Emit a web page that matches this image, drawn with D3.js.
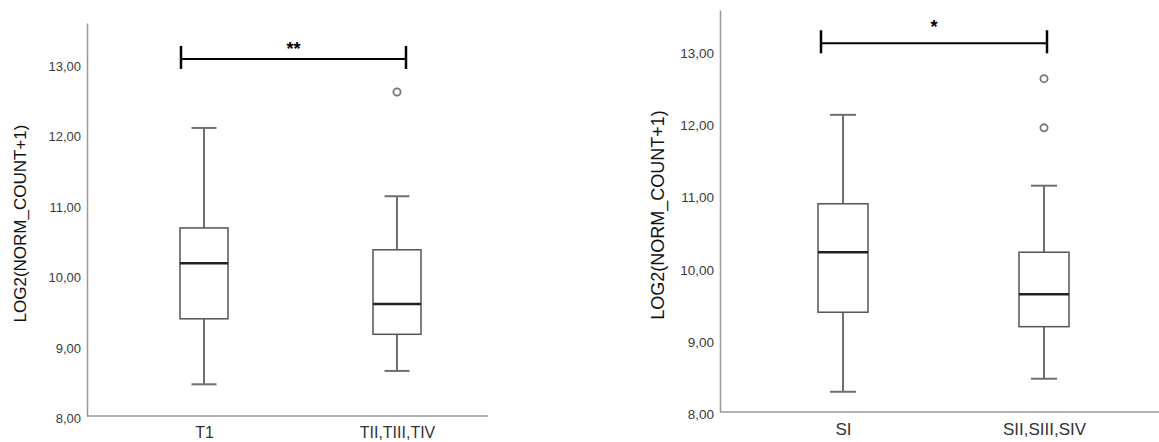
<!DOCTYPE html>
<html>
<head>
<meta charset="utf-8">
<script src="https://cdn.jsdelivr.net/npm/d3@7"></script>
<style>
  body { margin: 0; background: #fff; }
  svg { display: block; font-family: "Liberation Sans", Arial, sans-serif; }
</style>
</head>
<body>
<script>
const width = 1159;
const height = 442;

// left panel: tumour stage T
const tCategories = ['T1', 'TII,TIII,TIV'];
const tLow = [8.45, 8.64];
const tQ1 = [9.38, 9.16];
const tMedian = [10.17, 9.59];
const tQ3 = [10.67, 10.36];
const tHigh = [12.09, 11.12];
const tOutliers = [[], [12.60]];
const tSignif = '**';
const tBracket = 13.07;

// right panel: stage S
const sCategories = ['SI', 'SII,SIII,SIV'];
const sLow = [8.28, 8.46];
const sQ1 = [9.38, 9.18];
const sMedian = [10.21, 9.63];
const sQ3 = [10.88, 10.21];
const sHigh = [12.11, 11.13];
const sOutliers = [[], [12.61, 11.93]];
const sSignif = '*';
const sBracket = 13.10;

const yTicks = [8, 9, 10, 11, 12, 13];
const yLabel = 'LOG2(NORM_COUNT+1)';

const svg = d3.select('body')
  .append('svg')
  .attr('width', width)
  .attr('height', height);

drawPanel({
  cats: tCategories, low: tLow, q1: tQ1, med: tMedian, q3: tQ3, high: tHigh,
  outliers: tOutliers, signif: tSignif, bracket: tBracket,
  axisX: 87, axisEnd: 488, top: 23, bottom: 416, yTop: 13.58,
  first: 204, last: 397, boxW: 48, capW: 25,
  labelX: 20, labelSize: 17, tickSize: 13, catSize: 16, catY: 438,
  brLeft: 23, brRight: 9, starLift: 4
});

drawPanel({
  cats: sCategories, low: sLow, q1: sQ1, med: sMedian, q3: sQ3, high: sHigh,
  outliers: sOutliers, signif: sSignif, bracket: sBracket,
  axisX: 720, axisEnd: 1159, top: 10, bottom: 412, yTop: 13.56,
  first: 843, last: 1044, boxW: 50, capW: 26,
  labelX: 658, labelSize: 18, tickSize: 13.5, catSize: 17, catY: 435,
  brLeft: 22, brRight: 3, starLift: 10
});

function drawPanel(p) {
  const g = svg.append('g');

  const y = d3.scaleLinear()
    .domain([8, p.yTop])
    .range([p.bottom, p.top]);

  const x = d3.scalePoint()
    .domain(p.cats)
    .range([p.first, p.last]);

  const yAxis = d3.axisLeft(y)
    .tickValues(yTicks)
    .tickSize(0)
    .tickSizeOuter(0)
    .tickPadding(6)
    .tickFormat(d => d.toFixed(2).replace('.', ','));

  const ya = g.append('g')
    .attr('transform', 'translate(' + p.axisX + ',0)')
    .call(yAxis);
  ya.select('.domain').attr('stroke', '#999').attr('stroke-width', 1.5);
  ya.selectAll('text')
    .attr('font-size', p.tickSize)
    .attr('fill', '#3a3a3a')
    .attr('font-family', '"Liberation Sans", Arial, sans-serif')
    .attr('dy', '0.5em');

  // x baseline
  g.append('line')
    .attr('x1', p.axisX).attr('x2', p.axisEnd)
    .attr('y1', p.bottom).attr('y2', p.bottom)
    .attr('stroke', '#999').attr('stroke-width', 1.5);

  const xAxis = d3.axisBottom(x).tickSize(0).tickPadding(0);
  const xa = g.append('g')
    .attr('transform', 'translate(0,' + p.catY + ')')
    .call(xAxis);
  xa.select('.domain').remove();
  xa.selectAll('text')
    .attr('y', 0).attr('dy', 0)
    .attr('font-size', p.catSize)
    .attr('fill', '#333')
    .attr('font-family', '"Liberation Sans", Arial, sans-serif');

  // y label
  g.append('text')
    .attr('transform', 'translate(' + p.labelX + ',' + ((p.top + p.bottom) / 2 + 4) + ') rotate(-90)')
    .attr('text-anchor', 'middle')
    .attr('dy', '0.35em')
    .attr('font-size', p.labelSize)
    .attr('fill', '#111')
    .text(yLabel);

  const boxes = p.cats.map((c, i) => ({
    cat: c, low: p.low[i], q1: p.q1[i], med: p.med[i], q3: p.q3[i], high: p.high[i], out: p.outliers[i]
  }));

  const bg = g.selectAll('.box')
    .data(boxes)
    .enter()
    .append('g')
    .attr('class', 'box');

  // whiskers
  bg.append('line')
    .attr('x1', d => x(d.cat)).attr('x2', d => x(d.cat))
    .attr('y1', d => y(d.high)).attr('y2', d => y(d.q3))
    .attr('stroke', '#6f6f6f').attr('stroke-width', 2);
  bg.append('line')
    .attr('x1', d => x(d.cat)).attr('x2', d => x(d.cat))
    .attr('y1', d => y(d.q1)).attr('y2', d => y(d.low))
    .attr('stroke', '#6f6f6f').attr('stroke-width', 2);
  bg.append('line')
    .attr('x1', d => x(d.cat) - p.capW / 2).attr('x2', d => x(d.cat) + p.capW / 2)
    .attr('y1', d => y(d.high)).attr('y2', d => y(d.high))
    .attr('stroke', '#6f6f6f').attr('stroke-width', 2);
  bg.append('line')
    .attr('x1', d => x(d.cat) - p.capW / 2).attr('x2', d => x(d.cat) + p.capW / 2)
    .attr('y1', d => y(d.low)).attr('y2', d => y(d.low))
    .attr('stroke', '#6f6f6f').attr('stroke-width', 2);

  // box
  bg.append('rect')
    .attr('x', d => x(d.cat) - p.boxW / 2)
    .attr('width', p.boxW)
    .attr('y', d => y(d.q3))
    .attr('height', d => y(d.q1) - y(d.q3))
    .attr('fill', '#fff')
    .attr('stroke', '#555')
    .attr('stroke-width', 1.5);

  // median
  bg.append('line')
    .attr('x1', d => x(d.cat) - p.boxW / 2).attr('x2', d => x(d.cat) + p.boxW / 2)
    .attr('y1', d => y(d.med)).attr('y2', d => y(d.med))
    .attr('stroke', '#222').attr('stroke-width', 2.5);

  // outliers
  bg.selectAll('circle')
    .data(d => d.out.map(v => ({ cat: d.cat, v: v })))
    .enter()
    .append('circle')
    .attr('cx', d => x(d.cat))
    .attr('cy', d => y(d.v))
    .attr('r', 3.6)
    .attr('fill', 'none')
    .attr('stroke', '#777')
    .attr('stroke-width', 1.8);

  // significance bracket
  const bx1 = x(p.cats[0]) - p.brLeft;
  const bx2 = x(p.cats[1]) + p.brRight;
  const by = y(p.bracket);
  g.append('line')
    .attr('x1', bx1).attr('x2', bx2)
    .attr('y1', by).attr('y2', by)
    .attr('stroke', '#000').attr('stroke-width', 2);
  [bx1, bx2].forEach(bx => {
    g.append('line')
      .attr('x1', bx).attr('x2', bx)
      .attr('y1', by - 13).attr('y2', by + 10)
      .attr('stroke', '#000').attr('stroke-width', 2.5);
  });
  g.append('text')
    .attr('x', (bx1 + bx2) / 2)
    .attr('y', by - p.starLift)
    .attr('text-anchor', 'middle')
    .attr('font-size', 18)
    .attr('font-weight', 'bold')
    .attr('fill', '#000')
    .text(p.signif);
}
</script>
</body>
</html>
